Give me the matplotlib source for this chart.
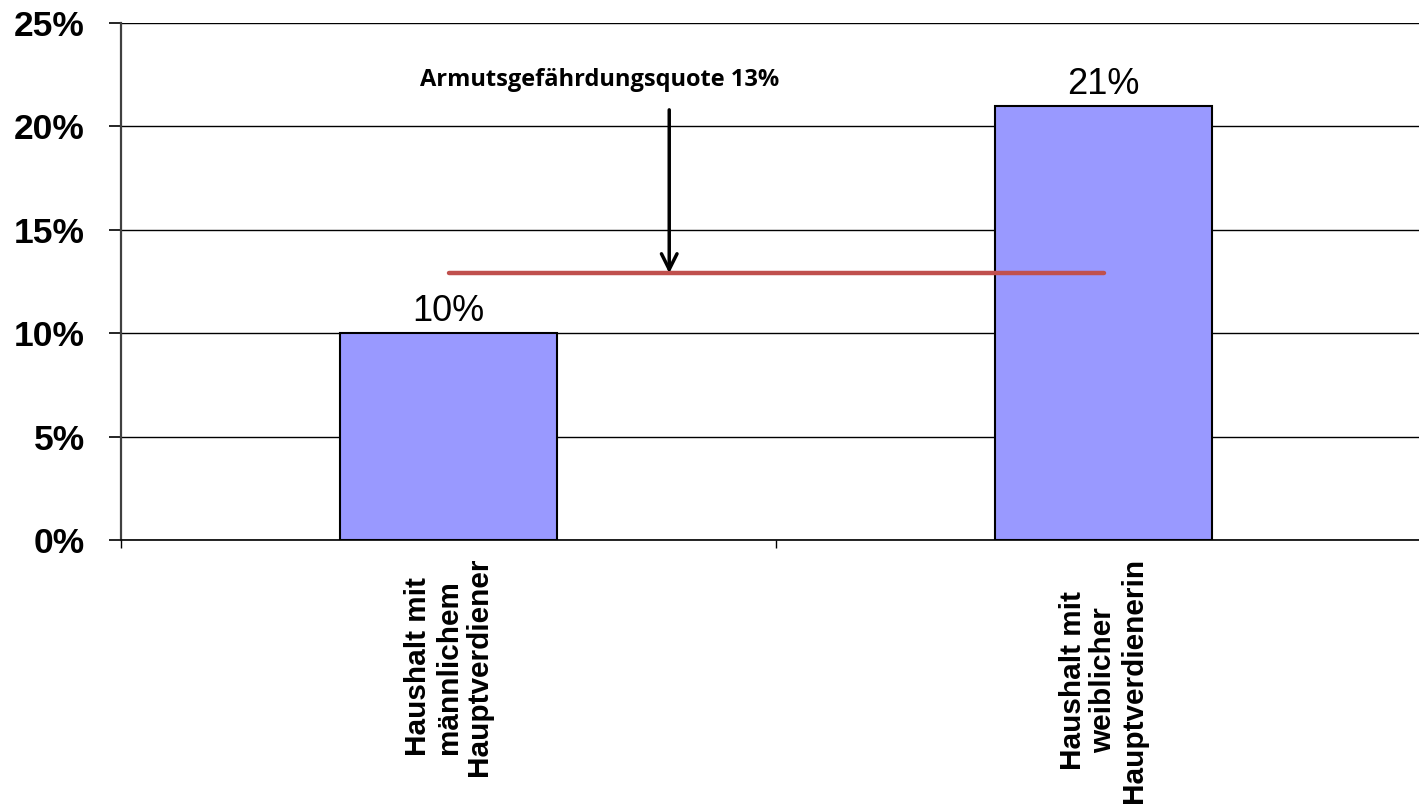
import numpy as np
import matplotlib
matplotlib.use("Agg")
import matplotlib.pyplot as plt
from matplotlib.ticker import FuncFormatter, FixedLocator

categories = ["Haushalt mit\nmännlichem\nHauptverdiener",
              "Haushalt mit\nweiblicher\nHauptverdienerin"]
values = [0.10, 0.21]
value_labels = ["10%", "21%"]
quote = 0.129
quote_label = "Armutsgefährdungsquote 13%"

fig = plt.figure(figsize=(14.19, 8.05), dpi=100)
# axes runs slightly past the right edge, like the original export
ax = fig.add_axes([121 / 1419, 1 - 540 / 805, 1310 / 1419, 517 / 805])

x = np.arange(len(categories))
ax.bar(x, values, width=0.33, color="#9999FF", edgecolor="black", linewidth=1.5, zorder=3)

for xi, v, lab in zip(x, values, value_labels):
    ax.text(xi, v + 0.002, lab, ha="center", va="bottom",
            fontsize=26, family="Liberation Sans")

# poverty risk line
ax.plot([x[0], x[-1]], [quote, quote], color="#C0504D", lw=3.2, zorder=4,
        solid_capstyle="round")

ax.annotate("", xy=(0.337, quote), xytext=(0.337, 0.208),
            arrowprops=dict(arrowstyle="->", color="black", lw=2.5,
                            mutation_scale=28, shrinkA=0, shrinkB=0), zorder=5)
ax.text(0.23, 0.2225, quote_label, ha="center", va="center", fontsize=17,
        fontweight="bold", family="Open Sans")

ax.set_xlim(-0.5, 1.5)
ax.set_ylim(0, 0.25)
ax.yaxis.set_major_locator(FixedLocator([0, 0.05, 0.10, 0.15, 0.20, 0.25]))
ax.yaxis.set_major_formatter(FuncFormatter(lambda v, p: f"{v * 100:.0f}%"))
ax.grid(axis="y", color="black", lw=1.0, zorder=0)

ax.xaxis.set_major_locator(FixedLocator([-0.5, 0.5, 1.5]))
ax.xaxis.set_major_formatter(FuncFormatter(lambda v, p: ""))
for xi, cat in zip(x, categories):
    ax.text(xi, -0.0085, cat, rotation=90, ha="center", va="top",
            multialignment="center", fontsize=21.4, fontweight="bold",
            family="Liberation Sans", linespacing=1.1)

for lab in ax.get_yticklabels():
    lab.set_fontsize(25.5)
    lab.set_fontweight("bold")
    lab.set_family("Liberation Sans")

ax.tick_params(axis="y", direction="out", length=9, width=1.2, pad=17)
ax.tick_params(axis="x", direction="out", length=6, width=1.0)

ax.spines["top"].set_visible(False)
ax.spines["right"].set_visible(False)
ax.spines["left"].set_color("#404040")
ax.spines["left"].set_linewidth(1.6)
ax.spines["bottom"].set_color("black")
ax.spines["bottom"].set_linewidth(1.2)

fig.savefig("out.png", dpi=100)
